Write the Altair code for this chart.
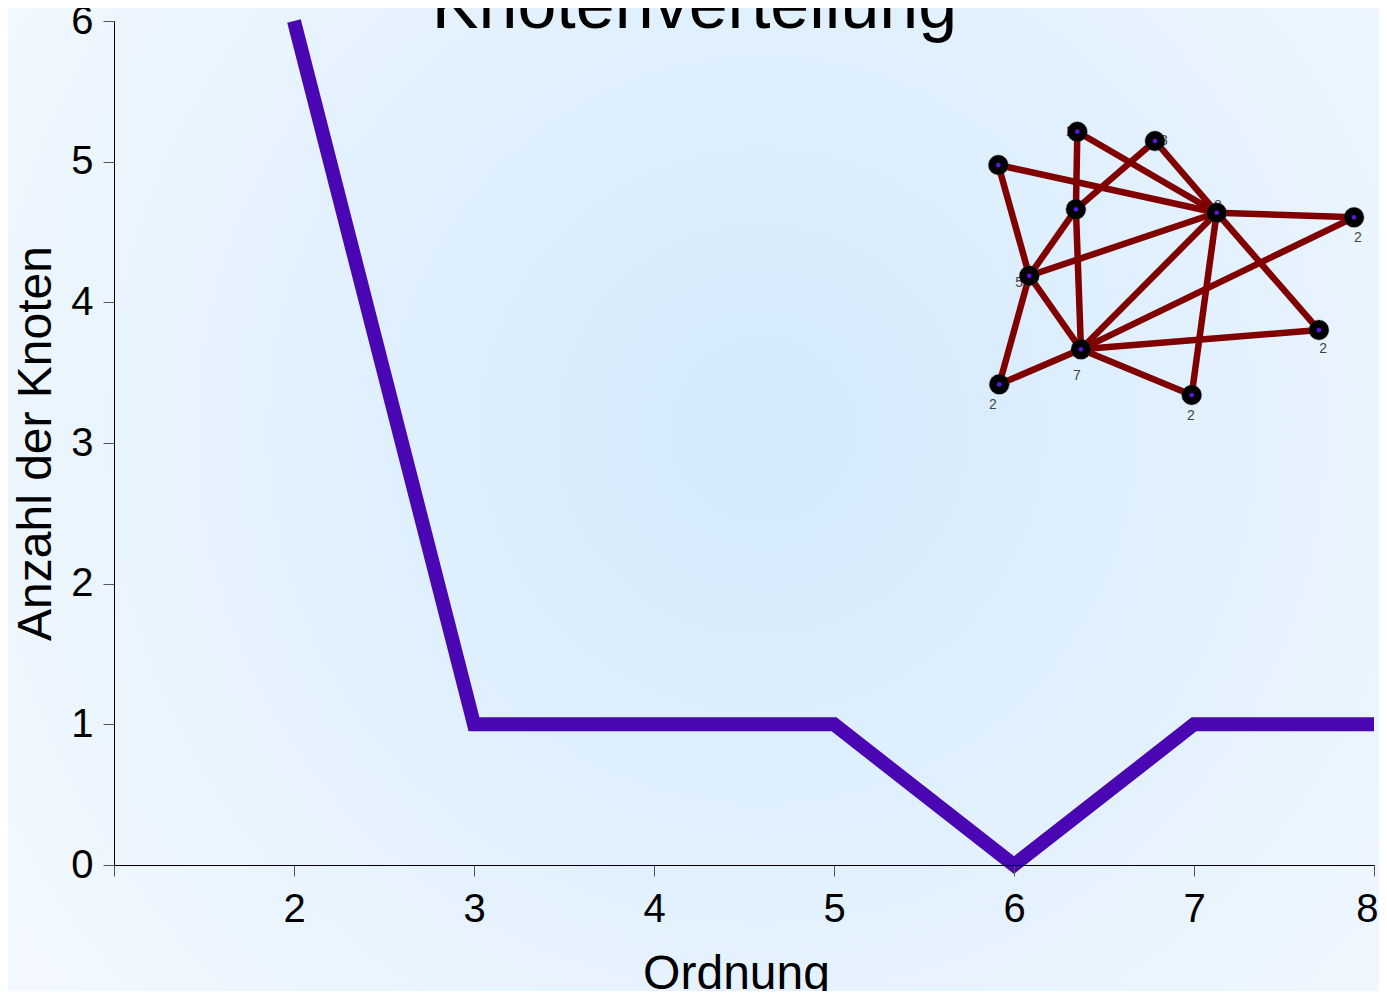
import altair as alt
import pandas as pd

# ---- main series ----
order = [2, 3, 4, 5, 6, 7, 8]
count = [6, 1, 1, 1, 0, 1, 1]

# ---- inset network (layout positions in chart data units) ----
node_id = ["A", "B", "C", "D", "E", "F", "G", "H", "I", "J", "K"]
node_x = [6.352, 6.783, 5.913, 6.344, 7.126, 7.889, 6.085, 6.372, 7.694, 5.918, 6.987]
node_y = [5.213, 5.147, 4.976, 4.661, 4.637, 4.604, 4.189, 3.666, 3.803, 3.417, 3.341]
node_deg = ["2", "3", "2", "4", "8", "2", "5", "7", "2", "2", "2"]
label_x = [6.310, 6.833, 5.913, 6.344, 7.133, 7.911, 6.028, 6.350, 7.717, 5.883, 6.983]
label_y = [5.211, 5.147, 4.976, 4.661, 4.685, 4.457, 4.137, 3.476, 3.668, 3.270, 3.192]
edge_from = ["A", "A", "B", "B", "C", "C", "D", "D", "G", "G", "G", "H", "H", "H", "H", "H", "E", "E", "E"]
edge_to = ["D", "E", "E", "D", "E", "G", "G", "H", "E", "H", "J", "E", "F", "I", "K", "J", "F", "I", "K"]

title_text = "Knotenverteilung"
x_title = "Ordnung"
y_title = "Anzahl der Knoten"

FONT = "Liberation Sans"

line_df = pd.DataFrame({"order": order, "count": count})
nodes_df = pd.DataFrame({"id": node_id, "x": node_x, "y": node_y, "deg": node_deg,
                         "lx": label_x, "ly": label_y})
pos = {n: (x, y) for n, x, y in zip(node_id, node_x, node_y)}
edges_df = pd.DataFrame({
    "x": [pos[a][0] for a in edge_from], "y": [pos[a][1] for a in edge_from],
    "x2": [pos[b][0] for b in edge_to], "y2": [pos[b][1] for b in edge_to],
})
one = pd.DataFrame({"k": [0]})

xs = alt.Scale(domain=[1, 8], nice=False, zero=False)
ys = alt.Scale(domain=[0, 6], nice=False, zero=False)

ax_x = alt.Axis(values=[1, 2, 3, 4, 5, 6, 7, 8], labelExpr="datum.value == 1 ? '' : datum.label",
                grid=False, labelFontSize=40, labelFont=FONT, labelColor="black",
                labelPadding=13, tickSize=11, tickColor="#555555", domainColor="black",
                title=x_title, titleFontSize=48, titleFont=FONT, titleFontWeight="normal",
                titleColor="black", titleBaseline="alphabetic", titleX=622, titleY=123,
                titleAlign="center", zindex=1, labelOverlap=False, labelFlush=True,
                labelFlushOffset=4, labelBound=False)
ax_y = alt.Axis(values=[0, 1, 2, 3, 4, 5, 6], grid=False, labelFontSize=40, labelFont=FONT,
                labelColor="black", labelPadding=10, tickSize=11, tickColor="#555555",
                domainColor="black", title=y_title, titleFontSize=48, titleFont=FONT,
                titleFontWeight="normal", titleColor="black", titleBaseline="alphabetic",
                titleX=-64, titleY=422, titleAngle=270, titleAlign="center", zindex=1,
                labelOverlap=False, labelFlush=False, labelBound=False)

bg = alt.Chart(one).mark_rect(
    fill=alt.RadialGradient(
        gradient="radial", x1=0.55, y1=0.45, x2=0.55, y2=0.45, r1=0, r2=0.75,
        stops=[alt.GradientStop(offset=0, color="#d2e9fc"),
               alt.GradientStop(offset=1, color="#f7fbff")]),
).encode(x=alt.value(-114), x2=alt.value(1273), y=alt.value(-21), y2=alt.value(978))

line = alt.Chart(line_df).mark_line(color="#4a06b2", strokeWidth=14).encode(
    x=alt.X("order:Q", scale=xs, axis=ax_x),
    y=alt.Y("count:Q", scale=ys, axis=ax_y),
)

edges = alt.Chart(edges_df).mark_rule(color="#800000", strokeWidth=6.5).encode(
    x=alt.X("x:Q", scale=xs, axis=ax_x), y=alt.Y("y:Q", scale=ys, axis=ax_y),
    x2="x2:Q", y2="y2:Q",
)

labels = alt.Chart(nodes_df).mark_text(fontSize=14, font=FONT, color="#444444",
                                       align="center", baseline="middle").encode(
    x=alt.X("lx:Q", scale=xs, axis=ax_x), y=alt.Y("ly:Q", scale=ys, axis=ax_y), text="deg:N",
)

nodes = alt.Chart(nodes_df).mark_point(filled=True, color="black", size=400, opacity=1,
                                       shape="circle").encode(
    x=alt.X("x:Q", scale=xs, axis=ax_x), y=alt.Y("y:Q", scale=ys, axis=ax_y),
)
rings = alt.Chart(nodes_df).mark_point(filled=False, color="#555555", size=400, strokeWidth=1,
                                       strokeDash=[1, 1], shape="circle").encode(
    x=alt.X("x:Q", scale=xs, axis=ax_x), y=alt.Y("y:Q", scale=ys, axis=ax_y),
)
dots = alt.Chart(nodes_df).mark_point(filled=True, color="#5a18e0", size=22, opacity=1,
                                      shape="circle").encode(
    x=alt.X("x:Q", scale=xs, axis=ax_x), y=alt.Y("y:Q", scale=ys, axis=ax_y),
)

title = alt.Chart(one).mark_text(text=title_text, fontSize=70, font=FONT, color="black",
                                 align="center", baseline="alphabetic").encode(
    x=alt.value(580.5), y=alt.value(7))

chart = alt.layer(bg, line, edges, labels, nodes, rings, dots, title).properties(
    width=1260, height=844,
    autosize=alt.AutoSizeParams(type="none"),
    padding={"left": 106, "top": 13, "right": 5, "bottom": 126},
).configure(background="#eaf5fe", font=FONT).configure_view(stroke=None)

chart.save("out.html", embed_options={"renderer": "svg", "actions": False})
